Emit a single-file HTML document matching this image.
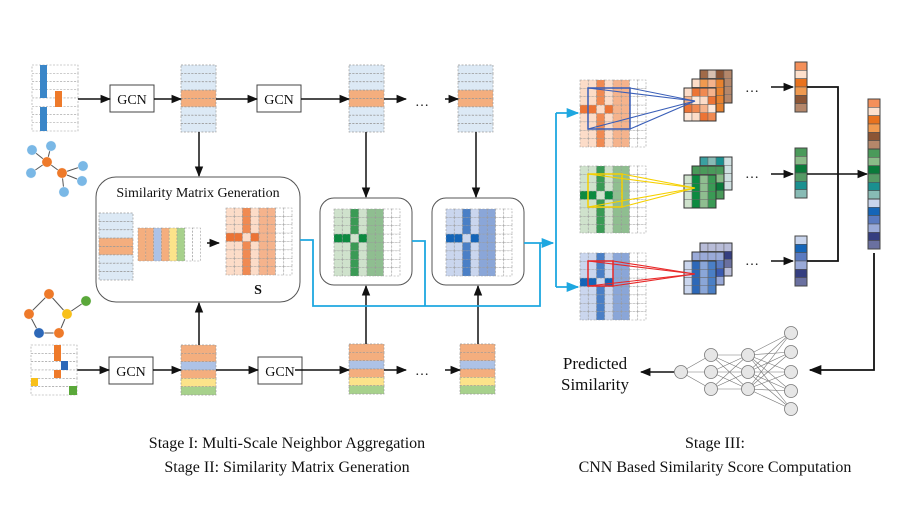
<!DOCTYPE html>
<html><head><meta charset="utf-8"><style>
html,body{margin:0;padding:0;background:#fff;}
svg{display:block;font-family:"Liberation Serif",serif;}
</style></head><body>
<svg id="s" xmlns="http://www.w3.org/2000/svg" width="917" height="510" viewBox="0 0 917 510">
<defs>
<marker id="ah" viewBox="0 0 10 10" refX="9" refY="5" markerWidth="7" markerHeight="7" orient="auto"><path d="M0,1 L10,5 L0,9 z" fill="#111"/></marker>
<marker id="ab" viewBox="0 0 10 10" refX="9" refY="5" markerWidth="7" markerHeight="7" orient="auto"><path d="M0,1 L10,5 L0,9 z" fill="#1ea7e0"/></marker>
</defs>
<g id="g"></g>
<g font-size="16" text-anchor="middle" fill="#111">
<text x="287" y="448">Stage I: Multi-Scale Neighbor Aggregation</text>
<text x="287" y="472">Stage II: Similarity Matrix Generation</text>
<text x="715" y="448">Stage III:</text>
<text x="715" y="472">CNN Based Similarity Score Computation</text>
<text x="595" y="369" font-size="17">Predicted</text>
<text x="595" y="390" font-size="17">Similarity</text>
<text x="198" y="197" font-size="14">Similarity Matrix Generation</text>
<text x="258" y="294" font-size="14" font-weight="bold">S</text>
<text x="422" y="106" font-size="14">…</text>
<text x="422" y="375" font-size="14">…</text>
<text x="752" y="92" font-size="14">…</text>
<text x="752" y="178" font-size="14">…</text>
<text x="752" y="265" font-size="14">…</text>
</g>
</svg>
<script>
var NS="http://www.w3.org/2000/svg",G=document.getElementById("g");
function el(t,a){var e=document.createElementNS(NS,t);for(var k in a)e.setAttribute(k,a[k]);G.appendChild(e);return e;}
function txt(x,y,s,sz){var e=el("text",{x:x,y:y,"font-size":sz||14,"text-anchor":"middle",fill:"#111"});e.textContent=s;}
function rect(x,y,w,h,f,st,extra){var a={x:x,y:y,width:w,height:h,fill:f||"none",stroke:st||"none"};for(var k in extra)a[k]=extra[k];return el("rect",a);}
function line(x1,y1,x2,y2,c,w,m){var a={x1:x1,y1:y1,x2:x2,y2:y2,stroke:c||"#111","stroke-width":w||1.5};if(m)a["marker-end"]="url(#"+m+")";return el("line",a);}
function poly(pts,c,m){var a={points:pts,fill:"none",stroke:c,"stroke-width":1.8};if(m)a["marker-end"]="url(#"+m+")";return el("polyline",a);}
function grid(x,y,w,h,r,c,fn,dash){var cw=w/c,rh=h/r;for(var i=0;i<r;i++)for(var j=0;j<c;j++){rect(x+j*cw,y+i*rh,cw,rh,fn(i,j),"#999",{"stroke-width":0.6,"stroke-dasharray":dash?"2,1.5":"none"});}}
function solidgrid(x,y,w,h,r,c,fn){var cw=w/c,rh=h/r;for(var i=0;i<r;i++)for(var j=0;j<c;j++)rect(x+j*cw,y+i*rh,cw,rh,fn(i,j),"#666",{"stroke-width":0.5});rect(x,y,w,h,"none","#333",{"stroke-width":1});}
function inputTop(x,y){grid(x,y,46,66,8,1,function(){return "#fff"},true);rect(x+8,y,7,33,"#3a86c8");rect(x+8,y+42,7,24,"#3a86c8");rect(x+23,y+26,7,16,"#ee7a2a");}
inputTop(32,65);
function emb(x,y,w,h,rows){var n=rows.length,rh=h/n;for(var i=0;i<n;i++)rect(x,y+i*rh,w,rh,rows[i],"#999",{"stroke-width":0.7,"stroke-dasharray":"2,1.5"});}
var LB="#dce9f5",OR="#f4ae7e",BL="#adc2e6",YE="#fce38a",GR="#a7d18c";
var topRows=[LB,LB,LB,OR,OR,LB,LB,LB];
emb(181,65,35,67,topRows);emb(349,65,35,67,topRows);emb(458,65,35,67,topRows);
var botRows=[OR,OR,BL,OR,YE,GR];
emb(181,345,35,50,botRows);emb(349,344,35,50,botRows);emb(460,344,35,50,botRows);
function gcn(x,y){rect(x,y,44,27,"#fff","#444",{"stroke-width":1});txt(x+22,y+19,"GCN",14);}
gcn(110,85);gcn(257,85);gcn(109,357);gcn(258,357);
line(78,99,110,99,"#111",1.5,"ah");line(154,99,181,99,"#111",1.5,"ah");line(216,99,257,99,"#111",1.5,"ah");line(301,99,349,99,"#111",1.5,"ah");line(384,99,406,99,"#111",1.5,"ah");line(445,99,458,99,"#111",1.5,"ah");
line(77,370,109,370,"#111",1.5,"ah");line(153,370,181,370,"#111",1.5,"ah");line(216,370,258,370,"#111",1.5,"ah");line(295,370,349,370,"#111",1.5,"ah");line(384,370,406,370,"#111",1.5,"ah");line(445,370,460,370,"#111",1.5,"ah");
line(199,132,199,176,"#111",1.5,"ah");line(366,132,366,197,"#111",1.5,"ah");line(476,132,476,197,"#111",1.5,"ah");
line(199,345,199,303,"#111",1.5,"ah");line(366,344,366,286,"#111",1.5,"ah");line(478,344,478,286,"#111",1.5,"ah");
function node(x,y,c){el("circle",{cx:x,cy:y,r:5.2,fill:c,stroke:"#fff","stroke-width":0.5});}
var g1=[[32,150],[51,146],[47,162],[31,173],[62,173],[83,166],[82,181],[64,192]];
[[0,2],[1,2],[3,2],[2,4],[4,5],[4,6],[4,7]].forEach(function(e){line(g1[e[0]][0],g1[e[0]][1],g1[e[1]][0],g1[e[1]][1],"#555",1);});
var c1="#7ab8e6",o1="#ee7a2a";
g1.forEach(function(p,i){node(p[0],p[1],(i==2||i==4)?o1:c1);});
var g2=[[49,294],[86,301],[29,314],[67,314],[39,333],[59,333]];
[[0,2],[0,3],[2,4],[4,5],[5,3],[3,1]].forEach(function(e){line(g2[e[0]][0],g2[e[0]][1],g2[e[1]][0],g2[e[1]][1],"#555",1);});
var gc=[o1,"#5aa83a",o1,"#f8c01a","#2d68b8",o1];
g2.forEach(function(p,i){node(p[0],p[1],gc[i]);});
grid(31,345,46,50,6,1,function(){return "#fff"},true);
rect(54,345,7,16,"#ee7a2a");rect(61,361,7,9,"#2d68b8");rect(54,370,7,8,"#ee7a2a");rect(31,378,7,8,"#f8c01a");rect(69,386,8,9,"#5aa83a");
rect(96,177,204,125,"#fff","#555",{rx:20,"stroke-width":1});
rect(320,198,92,87,"#fff","#555",{rx:14,"stroke-width":1});
rect(432,198,92,87,"#fff","#555",{rx:14,"stroke-width":1});
emb(99,213,34,67,topRows);
var colc=[OR,OR,BL,OR,YE,GR,"#fff","#fff"];
for(var j=0;j<8;j++)rect(138+j*7.8,228,7.8,33,colc[j],"#999",{"stroke-width":0.6,"stroke-dasharray":"2,1.5"});
line(207,243,219,243,"#111",1.5,"ah");
function pat(P){return function(i,j){var b=[P.L,P.L,P.D2,P.L,P.M,P.M,"#fff","#fff"][j];if(i==3){b=[P.D,P.D,P.L,P.D,P.M,P.M,"#fff","#fff"][j];}return b;};}
var PO={D:"#ec7436",D2:"#f08a52",M:"#f5b38c",L:"#fcdcc8"},PG={D:"#0c8a40",D2:"#3a9a55",M:"#8fbe90",L:"#cfe2cc"},PB={D:"#1565b8",D2:"#4a7fc6",M:"#8aa6d8",L:"#cad6ee"};
grid(226,208,66,67,8,8,pat(PO),true);
grid(334,209,66,67,8,8,pat(PG),true);
grid(446,209,66,67,8,8,pat(PB),true);
grid(580,80,66,67,8,8,pat(PO),true);
grid(580,166,66,67,8,8,pat(PG),true);
grid(580,253,66,67,8,8,pat(PB),true);
var BC="#1ea7e0";
poly("300,240 313,240 313,306 540,306 540,243","#1ea7e0");
poly("412,241 425,241 425,306","#1ea7e0");
line(524,243,553,243,BC,1.8,"ab");
line(556,113,556,287,BC,1.8);
line(556,113,578,113,BC,1.8,"ab");line(556,287,578,287,BC,1.8,"ab");
function stack(x,y,sets){for(var k=2;k>=0;k--){var cs=sets[k];solidgrid(x+8*k,y-9*k,32,33,4,4,function(i,j){return cs[(i*4+j*3+k)%cs.length];});}}
stack(684,88,[["#fcdcc8","#f08a52","#fde8da","#ec7436","#f5b38c"],["#f09a50","#fcdcc8","#e8822e","#f5b38c"],["#8c5535","#d8c0b0","#a06a48","#b5876a"]]);
stack(684,175,[["#cfe2cc","#3a9a55","#8fbe90","#0c8a40"],["#0a7a3a","#4a9a5a","#8abb88"],["#1a9090","#88bbb5","#3aa0a0","#cfe0e0"]]);
stack(684,261,[["#cad6ee","#4a7fc6","#8aa6d8","#2d68b8"],["#3a5ab0","#9aaad8","#5a7ac0"],["#353e80","#6a70a0","#b8bcd8"]]);
function conv(x,y,w,h,px,py,c){rect(x,y,w,h,"none",c,{"stroke-width":1.5});[[x,y],[x+w,y],[x,y+h],[x+w,y+h]].forEach(function(p){line(p[0],p[1],px,py,c,1.1);});}
conv(588,88,42,41,695,101,"#3a5fb8");
conv(588,174,34,33,695,188,"#f5d000");
conv(588,261,25,25,695,274,"#e82828");
function vec(x,y,w,h,cs){var rh=h/cs.length;for(var i=0;i<cs.length;i++)rect(x,y+i*rh,w,rh,cs[i],"#555",{"stroke-width":0.6});rect(x,y,w,h,"none","#444",{"stroke-width":1});}
var VO=["#f4905a","#fde0cc","#e8721e","#f09a50","#8c5535","#b5876a"],VG=["#4a9a5a","#8abb88","#0a7a3a","#559a65","#1a9090","#88bbb5"],VB=["#c8d4ec","#1565b8","#5a7ac0","#9aaad8","#353e80","#6a70a0"];
vec(795,62,12,50,VO);vec(795,148,12,50,VG);vec(795,236,12,50,VB);
vec(868,99,12,50,VO);vec(868,149,12,50,VG);vec(868,199,12,50,VB);
line(771,87,793,87,"#111",1.5,"ah");line(771,174,793,174,"#111",1.5,"ah");line(771,261,793,261,"#111",1.5,"ah");
poly("807,87 838,87 838,261 807,261","#111");
line(807,174,867,174,"#111",1.5,"ah");
poly("874,253 874,370 810,370","#111","ah");
var L=[[[681,372]],[[711,355],[711,372],[711,389]],[[748,355],[748,372],[748,389]],[[791,333],[791,352],[791,372],[791,391],[791,409]]];
for(var a=0;a<3;a++)L[a].forEach(function(p){L[a+1].forEach(function(q){line(p[0],p[1],q[0],q[1],"#777",0.6);});});
L.forEach(function(l){l.forEach(function(p){el("circle",{cx:p[0],cy:p[1],r:6.5,fill:"#e6e6e6",stroke:"#777","stroke-width":0.8});});});
line(674,372,641,372,"#111",1.5,"ah");
</script>
</body></html>
